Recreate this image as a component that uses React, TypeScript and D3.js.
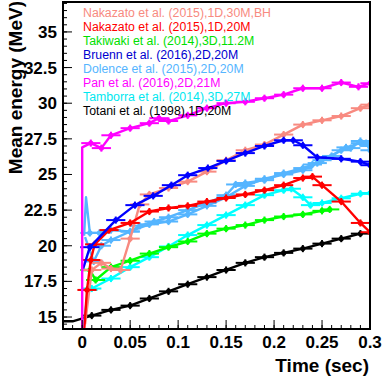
import React from "react";
import { scaleLinear, line, range } from "d3";

// values: [time (sec), mean energy (MeV)]
const nakazatoBH: [number, number][] = [
  [0.003, 14.5], [0.01, 18.3], [0.02, 18.8], [0.03, 18.4], [0.04, 18.3], [0.05, 20.5],
  [0.06, 22.9], [0.07, 23.6], [0.09, 24.05], [0.11, 24.5], [0.13, 25.2], [0.15, 26.0],
  [0.17, 26.7], [0.19, 27.1], [0.21, 27.8], [0.23, 28.5], [0.25, 28.8], [0.27, 29.1],
  [0.29, 29.65], [0.3, 29.9]
];
const nakazato20: [number, number][] = [
  [0.002, 14.0], [0.005, 16.9], [0.009, 19.0], [0.013, 20.1], [0.028, 21.1], [0.05, 21.6],
  [0.07, 22.4], [0.09, 22.65], [0.11, 22.8], [0.13, 23.1], [0.15, 23.35], [0.17, 23.6],
  [0.19, 23.9], [0.21, 24.25], [0.23, 24.75], [0.24, 24.85], [0.25, 24.25], [0.27, 23.1],
  [0.29, 21.6], [0.3, 20.95]
];
const takiwaki: [number, number][] = [
  [0.001, 18.3], [0.008, 18.3], [0.014, 17.6], [0.03, 18.5], [0.05, 18.95], [0.07, 19.45],
  [0.09, 19.9], [0.11, 20.3], [0.13, 20.85], [0.15, 21.2], [0.17, 21.45], [0.19, 21.8],
  [0.21, 22.05], [0.23, 22.2], [0.25, 22.45], [0.258, 22.55]
];
const bruenn: [number, number][] = [
  [0.001, 18.4], [0.008, 19.9], [0.035, 21.8], [0.055, 22.85], [0.074, 23.5], [0.093, 24.25],
  [0.11, 24.95], [0.131, 25.45], [0.15, 25.95], [0.17, 26.5], [0.19, 27.0], [0.21, 27.4],
  [0.22, 27.4], [0.23, 27.05], [0.245, 26.2], [0.27, 26.1], [0.29, 25.9], [0.3, 25.65]
];
const dolenceA: [number, number][] = [
  [0.002, 20.7], [0.004, 23.4], [0.008, 20.9], [0.018, 20.9], [0.03, 21.1], [0.05, 21.0],
  [0.06, 21.4], [0.075, 21.7], [0.09, 22.0], [0.11, 22.5], [0.13, 23.0], [0.15, 23.55],
  [0.16, 24.3], [0.17, 24.4], [0.19, 24.6], [0.21, 25.1], [0.23, 25.45], [0.24, 25.7],
  [0.25, 26.0], [0.27, 26.7], [0.28, 26.85], [0.29, 27.35], [0.296, 27.2], [0.3, 26.7]
];
const dolenceB: [number, number][] = [
  [0.003, 20.6], [0.012, 18.9], [0.02, 20.0], [0.03, 20.4], [0.05, 21.0], [0.07, 21.5],
  [0.09, 21.7], [0.11, 22.2], [0.13, 22.8], [0.15, 23.4], [0.17, 24.2], [0.19, 24.7],
  [0.21, 25.0], [0.23, 25.3], [0.245, 25.8], [0.26, 26.3], [0.275, 26.9], [0.29, 27.2],
  [0.3, 27.0]
];
const pan: [number, number][] = [
  [0.0, 10], [0.0, 26.9], [0.009, 27.2], [0.02, 26.85], [0.03, 27.75], [0.05, 28.25],
  [0.07, 28.6], [0.08, 28.95], [0.09, 28.75], [0.11, 29.15], [0.13, 29.65], [0.15, 30.0],
  [0.17, 30.1], [0.19, 30.35], [0.21, 30.6], [0.23, 31.05], [0.25, 31.05], [0.27, 31.45],
  [0.288, 31.15], [0.3, 31.4]
];
const tamborra: [number, number][] = [
  [0.001, 14.0], [0.006, 16.9], [0.01, 17.0], [0.03, 17.7], [0.05, 18.5], [0.07, 19.2],
  [0.09, 19.95], [0.11, 20.75], [0.13, 21.45], [0.15, 22.15], [0.17, 22.85], [0.19, 23.55],
  [0.21, 23.9], [0.218, 24.0], [0.23, 23.4], [0.238, 22.85], [0.25, 23.0], [0.27, 23.33],
  [0.29, 23.65], [0.3, 23.7]
];
const totani: [number, number][] = [
  [-0.02, 14.7], [-0.01, 14.7], [0.01, 15.1], [0.03, 15.5], [0.05, 15.8], [0.07, 16.3],
  [0.09, 16.8], [0.11, 17.3], [0.13, 17.8], [0.15, 18.3], [0.17, 18.8], [0.19, 19.2],
  [0.21, 19.5], [0.23, 19.8], [0.25, 20.15], [0.27, 20.5], [0.29, 20.85]
];

const legendLabels = [
  "Nakazato et al. (2015),1D,30M,BH",
  "Nakazato et al. (2015),1D,20M",
  "Takiwaki et al. (2014),3D,11.2M",
  "Bruenn et al. (2016),2D,20M",
  "Dolence et al. (2015),2D,20M",
  "Pan et al. (2016),2D,21M",
  "Tamborra et al. (2014),3D,27M",
  "Totani et al. (1998),1D,20M"
];
const legendColors = ["#f88a80", "#ff0000", "#00e000", "#0000d0", "#55b5ff", "#ff00ff", "#00e8f0", "#000000"];

const xTicks = [0, 0.05, 0.1, 0.15, 0.2, 0.25, 0.3];
const xTickLabels = ["0", "0.05", "0.1", "0.15", "0.2", "0.25", "0.3"];
const yTicks = [15, 17.5, 20, 22.5, 25, 27.5, 30, 32.5, 35];

const series = [
  { data: totani, color: "#000000" },
  { data: tamborra, color: "#00ffff" },
  { data: takiwaki, color: "#00ff00" },
  { data: dolenceB, color: "#55b5ff" },
  { data: dolenceA, color: "#55b5ff" },
  { data: nakazatoBH, color: "#f88a80" },
  { data: nakazato20, color: "#ff0000" },
  { data: bruenn, color: "#0000ff" },
  { data: pan, color: "#ff00ff" }
];

export default function App() {
  const width = 382,
    height = 378;
  const left = 63,
    right = 370,
    top = 2,
    bottom = 329;

  const x = scaleLinear().domain([-0.02, 0.3]).range([left, right]);
  const y = scaleLinear().domain([14.16, 37.1]).range([bottom, top]);

  const path = line<[number, number]>()
    .x(d => x(d[0]))
    .y(d => y(d[1]));

  const minorX = range(-0.02, 0.3001, 0.01);
  const minorY = range(14.5, 37.01, 0.5);

  return (
    <svg
      width={width}
      height={height}
      style={{ position: "absolute", left: 0, top: 0, background: "#fff" }}
      fontFamily="'Liberation Sans', Arial, Helvetica, sans-serif"
    >
      <defs>
        <clipPath id="plot">
          <rect x={left} y={top} width={right - left} height={bottom - top} />
        </clipPath>
      </defs>

      <g clipPath="url(#plot)">
        {series.map((s, i) => (
          <g key={i}>
            <path d={path(s.data) || ""} fill="none" stroke={s.color} strokeWidth={2.4} strokeLinejoin="round" />
            {s.data
              .filter(d => d[0] >= 0.005)
              .map((d, j) => (
                <g key={j} stroke={s.color} strokeWidth={2}>
                  <line x1={x(d[0] - 0.01)} x2={x(d[0] + 0.01)} y1={y(d[1])} y2={y(d[1])} />
                  <line x1={x(d[0])} x2={x(d[0])} y1={y(d[1] + 0.25)} y2={y(d[1] - 0.25)} />
                  <circle cx={x(d[0])} cy={y(d[1])} r={2.6} fill={s.color} stroke="none" />
                </g>
              ))}
          </g>
        ))}
      </g>

      {/* ticks */}
      <g stroke="#000" strokeWidth={1}>
        {minorX.map((t, i) => (
          <line key={i} x1={x(t)} x2={x(t)} y1={bottom} y2={bottom - 4} />
        ))}
        {xTicks.map((t, i) => (
          <line key={i} x1={x(t)} x2={x(t)} y1={bottom} y2={bottom - 9} />
        ))}
        {minorY.map((v, i) => (
          <line key={i} x1={left} x2={left + 4} y1={y(v)} y2={y(v)} />
        ))}
        {yTicks.map((v, i) => (
          <line key={i} x1={left} x2={left + 9} y1={y(v)} y2={y(v)} />
        ))}
      </g>

      <rect x={left} y={top} width={right - left} height={bottom - top} fill="none" stroke="#000" strokeWidth={2} />

      {/* legend */}
      {legendLabels.map((l, i) => (
        <text key={l} x={83} y={16.5 + i * 14.1} fontSize={12.3} fill={legendColors[i]}>
          {l}
        </text>
      ))}

      {/* tick labels */}
      {xTicks.map((t, i) => (
        <text key={i} x={x(t)} y={348} textAnchor="middle" fontSize={17} fontWeight="bold">
          {xTickLabels[i]}
        </text>
      ))}
      {yTicks.map((v, i) => (
        <text key={i} x={57} y={y(v) + 6} textAnchor="end" fontSize={17} fontWeight="bold">
          {v}
        </text>
      ))}

      <text x={369} y={372} textAnchor="end" fontSize={19} fontWeight="bold">
        Time (sec)
      </text>
      <text
        transform="translate(22, 1) rotate(-90)"
        textAnchor="end"
        fontSize={19}
        fontWeight="bold"
      >
        Mean energy (MeV)
      </text>
    </svg>
  );
}
